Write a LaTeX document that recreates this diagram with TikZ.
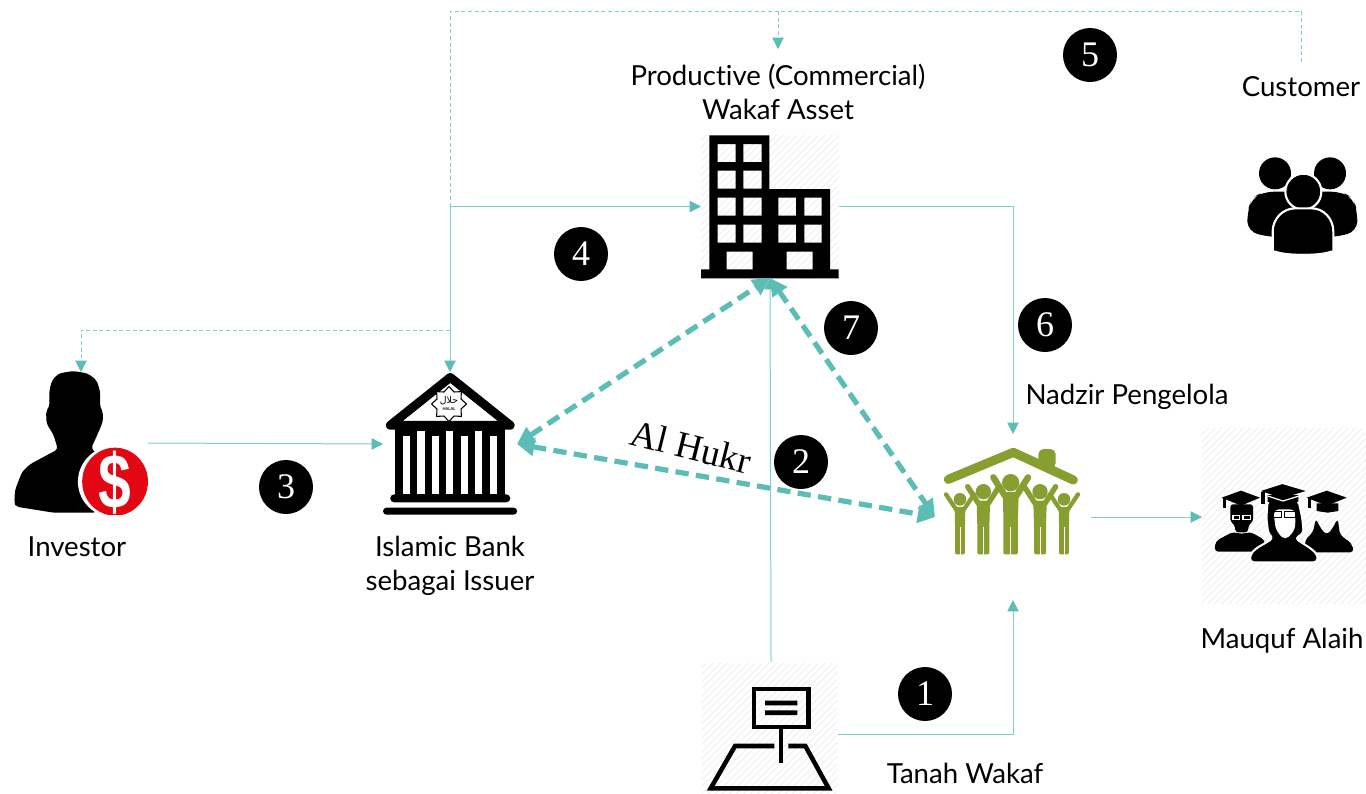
\documentclass[tikz,border=0pt]{standalone}
\usepackage{fontspec}
\setmainfont[Ligatures=NoCommon]{Lato}
\newfontfamily\numfont{Liberation Serif}
\newfontfamily\dollarfont{Liberation Sans}
\newfontfamily\arabicfont[Script=Arabic]{DejaVu Sans}
\TeXXeTstate=1
\usetikzlibrary{arrows.meta}
\definecolor{tealthin}{HTML}{7FCFCB}
\definecolor{tealthick}{HTML}{5BBDB6}
\definecolor{tealtip}{HTML}{5BBDB6}
\definecolor{olive}{HTML}{889E30}
\definecolor{coinred}{HTML}{E30613}
\tikzset{
  iconbox/.style={rectangle,inner sep=0pt,outer sep=0pt},
  thinflow/.style={draw=tealthin,line width=0.75pt},
  thindash/.style={thinflow,dash pattern=on 3pt off 2pt},
  thintip/.style={-{Triangle[length=8.5pt,width=8.5pt,color=tealtip,fill=tealtip]}},
  thickflow/.style={draw=tealthick,line width=3.9pt,dash pattern=on 10pt off 5.5pt,
    {Triangle[length=13pt,width=13pt,color=tealthick,fill=tealthick]}-{Triangle[length=13pt,width=13pt,color=tealthick,fill=tealthick]}},
  lab/.style={font=\fontsize{20.7}{26}\selectfont,align=center,inner sep=0pt,outer sep=0pt,text=black},
  numdot/.style={circle,fill=black,text=white,minimum size=40.5pt,inner sep=0pt,font=\numfont\fontsize{27}{27}\selectfont},
  hatchline/.style={draw=black!9,line width=0.45pt},
  zoomthree/.style={x=0.25pt,y=-0.25pt},
}
\newcommand{\hatchbox}[4]{%
  \begin{scope}
    \clip (#1,#2) rectangle (#3,#4);
    \foreach \k in {-240,-233,...,240}{\draw[hatchline] ({(#1+#3)/2+\k-120},{(#2+#4)/2+120}) -- ++(240,-240);}
  \end{scope}}
\newcommand{\gfig}[7]{% cx, head y, r, half width, arm dx, arm y, shoulder y
  \fill[olive] (#1,#2) circle[radius=#3];
  \draw[olive,line width={(#4)*0.2pt},line cap=round,line join=round] ({#1-#5},#6) -- ({#1-#4*0.75},#7) -- ({#1+#4*0.75},#7) -- ({#1+#5},#6);
  \fill[olive,rounded corners=1pt] ({#1-#4},{#7}) -- ({#1+#4},{#7}) -- ({#1+#4*0.9},{#7+70}) -- ({#1+#4*0.9},343) -- ({#1-#4*0.9},343) -- ({#1-#4*0.9},{#7+70}) -- cycle;
  \draw[white,line width=0.7pt] (#1,344) -- (#1,262);
}
\begin{document}
\begin{tikzpicture}[x=0.75pt,y=-0.75pt]
\fill[white] (0,0) rectangle (1366,793);
\useasboundingbox (0,0) rectangle (1366,793);

% ---------- anchor nodes for the icons
\node[iconbox,minimum width=100.5pt,minimum height=106.5pt] (investor) at (81,443) {};
\node[iconbox,minimum width=100.5pt,minimum height=108pt] (bank) at (450,444) {};
\node[iconbox,minimum width=103.5pt,minimum height=107.25pt] (building) at (770,206.5) {};
\node[iconbox,minimum width=117pt,minimum height=124.5pt] (community) at (1013,517) {};
\node[iconbox,minimum width=123pt,minimum height=129pt] (graduates) at (1284,517) {};
\node[iconbox,minimum width=100.5pt,minimum height=108pt] (land) at (771,734) {};

% ---------- hatched icon backgrounds
\hatchbox{1202}{428}{1366}{603}
\hatchbox{701}{135}{839}{278}
\hatchbox{702}{663}{837}{793}

% ---------- investor
\begin{scope}[shift={(0,320)},x=0.268pt,y=-0.25pt]
  \fill[black,rounded corners=2.5pt] (40,548) -- (42,510) -- (62,455) -- (85,432) -- (162,388) -- (150,345) -- (130,310) -- (129,272) -- (138,262) -- (138,212) -- (146,180) -- (165,160) -- (205,153) -- (245,160) -- (270,180) -- (280,212) -- (280,262) -- (288,275) -- (288,305) -- (270,350) -- (255,385) -- (290,420) -- (270,578) -- (150,578) -- (45,560) -- cycle;
  \begin{scope}
    \clip (200,360) rectangle (430,582);
    \fill[white] (322,485) ellipse[x radius=104,y radius=108];
    \fill[coinred] (322,485) ellipse[x radius=92,y radius=102];
  \end{scope}
  \node[text=white,inner sep=0pt,font=\dollarfont\bfseries\fontsize{58}{58}\selectfont] (dollar) at (322,488) {\scalebox{0.76}[1]{\$}};
\end{scope}

% ---------- bank
\begin{scope}[shift={(0,320)},x=0.268pt,y=-0.25pt]
  \draw[black,line width=6.6pt,line join=round,line cap=round] (1092,316) -- (1260,172) -- (1428,316) -- cycle;
  \fill[black] (1105,318) rectangle (1412,530);
  \foreach \xa/\ya in {1128/347,1168/333,1209/347,1249/333,1290/347,1330/333,1370/347}{
    \fill[white] (\xa,\ya) rectangle (\xa+20,523);}
  \fill[black,rounded corners=3pt] (1092,523) rectangle (1428,547);
  \fill[black,rounded corners=2.5pt] (1072,563) rectangle (1447,584);
\end{scope}
\begin{scope}[shift={(449,404)}]
  \draw[black,fill=white,line width=0.8pt,line join=round] (0:17.5) \foreach \a in {22.5,67.5,...,337.5}{ -- (\a:13) -- (\a+22.5:17.5)} -- cycle;
  \node[inner sep=0pt,font=\arabicfont\fontsize{7}{7}\selectfont] (halalar) at (0,-3) {\beginR حلال\endR};
  \node[inner sep=0pt,font=\fontsize{3}{3}\selectfont\bfseries] (halalen) at (0,5) {HALAL};
\end{scope}

% ---------- building
\begin{scope}[shift={(680,120)},zoomthree]
  \fill[black,even odd rule] (88,46) -- (268,46) -- (268,207) -- (450,207) -- (450,448) -- (476,448) -- (476,475) -- (63,475) -- (63,448) -- (88,448) -- cycle
    (113,72) rectangle (167,126) (190,72) rectangle (245,126)
    (113,152) rectangle (167,206) (190,152) rectangle (245,206)
    (113,233) rectangle (167,287) (190,233) rectangle (245,287)
    (113,314) rectangle (167,368) (190,314) rectangle (245,368)
    (295,233) rectangle (348,287) (373,233) rectangle (425,287)
    (295,314) rectangle (348,368) (373,314) rectangle (425,368)
    (140,395) rectangle (218,448) (320,395) rectangle (398,448);
\end{scope}

% ---------- community
\begin{scope}[shift={(940,440)},zoomthree]
  \fill[olive,rounded corners=4pt] (295,85) -- (295,27) -- (347,27) -- (347,85) -- cycle;
  \draw[olive,line width=6.8pt,line cap=round,line join=round] (25,118) -- (220,37) -- (400,120);
  \gfig{60}{178}{19}{16}{42}{163}{208}
  \gfig{372}{178}{19}{16}{42}{163}{208}
  \gfig{130}{155}{23}{20}{47}{140}{190}
  \gfig{300}{155}{23}{20}{47}{140}{190}
  \gfig{212}{128}{26}{24}{52}{112}{166}
\end{scope}

% ---------- graduates
\begin{scope}[shift={(1205,475)},zoomthree]
  % left
  \fill[black,rounded corners=3pt] (28,230) -- (32,198) -- (85,170) -- (110,178) -- (135,170) -- (180,195) -- (180,230) -- cycle;
  \fill[black,rounded corners=2pt] (76,88) -- (144,88) -- (144,140) -- (132,148) -- (128,172) -- (92,172) -- (88,148) -- (76,140) -- cycle;
  \fill[black] (50,68) -- (108,47) -- (165,68) -- (108,92) -- cycle;
  \fill[black] (53,70) rectangle (62,100);
  \draw[white,line width=1.2pt] (84,122) rectangle (104,134) (114,122) rectangle (136,134);
  % right
  \fill[black,rounded corners=3pt] (300,232) -- (300,195) -- (325,170) -- (332,130) -- (350,165) -- (365,180) -- (380,165) -- (398,130) -- (405,180) -- (440,205) -- (447,232) -- cycle;
  \fill[black] (335,85) -- (400,85) -- (400,108) -- (368,113) -- (335,108) -- cycle;
  \fill[black] (305,68) -- (365,47) -- (425,68) -- (365,92) -- cycle;
  \fill[black] (309,70) rectangle (318,100);
  % centre
  \draw[white,line width=1.5pt,fill=black,rounded corners=3pt,line join=round] (135,262) -- (135,240) -- (150,222) -- (205,190) -- (190,178) -- (184,130) -- (188,75) -- (280,75) -- (292,130) -- (296,175) -- (270,190) -- (320,222) -- (338,240) -- (338,262) -- cycle;
  \fill[white,rounded corners=4pt] (205,103) -- (272,103) -- (270,165) -- (240,197) -- (212,165) -- cycle;
  \draw[black,line width=0.9pt] (205,110) rectangle (229,127) (238,110) rectangle (272,127);
  \draw[white,line width=1pt,fill=black] (160,48) -- (232,25) -- (310,48) -- (232,72) -- cycle;
  \fill[black] (168,52) rectangle (180,88);
  \fill[black] (188,60) -- (280,60) -- (280,80) -- (235,95) -- (188,80) -- cycle;
  \draw[white,line width=0.9pt] (188,63) -- (234,78) -- (282,63);
\end{scope}

% ---------- land
\begin{scope}[shift={(680,650)},zoomthree]
  \draw[black,line width=3.6pt,fill=none] (222,117) rectangle (385,231);
  \fill[black] (255,152) rectangle (352,166) (255,181) rectangle (352,195);
  \fill[black] (297,238) rectangle (310,338);
  \draw[black,line width=3.4pt,line join=miter] (283,288) -- (165,288) -- (92,415) -- (446,415) -- (376,288) -- (325,288);
\end{scope}

% ---------- customers
\begin{scope}[shift={(1220,140)},zoomthree]
  \fill[black] (165,100) circle[radius=48];
  \fill[black] (330,100) circle[radius=48];
  \fill[black,rounded corners=8pt] (82,275) -- (82,215) -- (95,175) -- (130,155) -- (365,155) -- (400,175) -- (412,215) -- (412,275) -- (340,292) -- (155,292) -- cycle;
  \draw[white,line width=1.6pt,fill=black] (250,155) circle[radius=54];
  \draw[white,line width=1.6pt,fill=black] (158,345) -- (158,275) .. controls (158,235) and (190,205) .. (225,205) -- (275,205) .. controls (310,205) and (340,235) .. (340,275) -- (340,345) -- cycle;
  \fill[white] (150,332) -- (167,332) .. controls (200,345) and (300,345) .. (332,332) -- (345,332) -- (345,350) -- (150,350) -- cycle;
\end{scope}

% ---------- labels
\node[lab,minimum height=64.5pt] (productive) at (778,92) {Productive (Commercial)\\Wakaf Asset};
\node[lab,minimum height=37.5pt] (customer) at (1301,87) {Customer};
\node[lab] (nadzir) at (1127,397) {Nadzir Pengelola};
\node[lab] (investorlab) at (77,547) {Investor};
\node[lab] (banklab) at (450,566) {Islamic Bank\\sebagai Issuer};
\node[lab] (mauquf) at (1282,641) {Mauquf Alaih};
\node[lab] (tanah) at (965,773) {Tanah Wakaf};
\node[inner sep=0pt,rotate=-14,font=\numfont\fontsize{28}{28}\selectfont] (hukr) at (691,447) {Al Hukr};

% ---------- junctions
\coordinate (jInv) at (bank.north |- 0,330);
\coordinate (jAsset) at (bank.north |- building.west);
\coordinate (jTopL) at (bank.north |- 0,11);
\coordinate (jTopM) at (productive.north |- 0,11);
\coordinate (jTopR) at (customer.north |- 0,11);

% ---------- thin connectors
\draw[thinflow,thintip] (investor.east) -- (bank.west);
\draw[thinflow,thintip] (jAsset) -- (bank.north);
\draw[thinflow,thintip] (jAsset) -- (building.west);
\draw[thindash,thintip] (jInv) -| (investor.north);
\draw[thindash] (jAsset) -- (jTopL) -- (jTopR) -- (customer.north);
\draw[thindash,thintip] (jTopM) -- (productive.north);
\draw[thinflow,thintip] (building.east) -| (community.north);
\draw[thinflow,thintip] (land.east) -| (community.south);
\draw[thinflow,thintip] (land.north) -- (building.south);
\draw[thinflow,thintip] (community.east) -- (graduates.west);

% ---------- thick connectors
\draw[thickflow] (bank.east) -- (building.south);
\draw[thickflow] (bank.east) -- (community.west);
\draw[thickflow] (building.south) -- (community.west);

% ---------- numbers
\node[numdot] (n1) at (925,694) {1};
\node[numdot] (n2) at (801,462) {2};
\node[numdot] (n3) at (286,487) {3};
\node[numdot] (n4) at (581,254) {4};
\node[numdot] (n5) at (1090,55) {5};
\node[numdot] (n6) at (1045,325) {6};
\node[numdot] (n7) at (851,328) {7};
\end{tikzpicture}
\end{document}
